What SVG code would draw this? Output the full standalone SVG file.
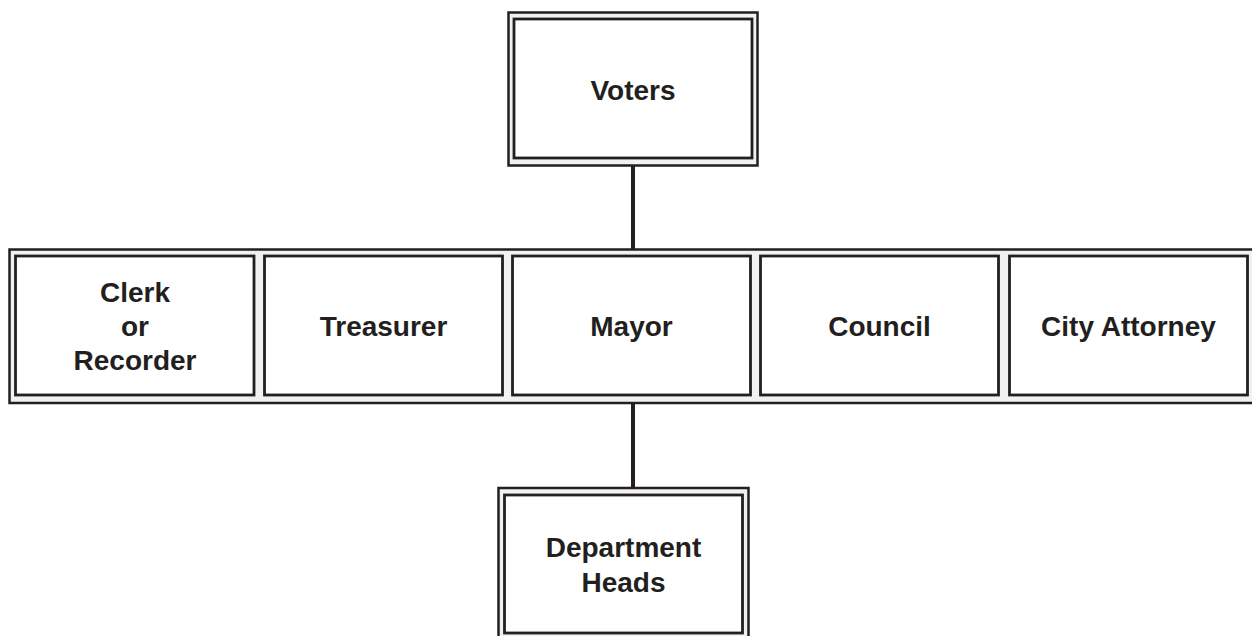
<svg xmlns="http://www.w3.org/2000/svg" width="1252" height="636" viewBox="0 0 1252 636">
<style>
.outer{fill:#f1f1f1;stroke:#231f20;stroke-width:2.5}
.inner{fill:#ffffff;stroke:#231f20;stroke-width:2.8}
.conn{stroke:#231f20;stroke-width:4;fill:none}
text{font-family:"Liberation Sans",Arial,Helvetica,sans-serif;font-weight:bold;font-size:28px;fill:#231f20;text-anchor:middle}
</style>
<rect width="1252" height="636" fill="#ffffff"/>
<g id="connectors">
<line class="conn" x1="633" y1="166" x2="633" y2="250"/>
<line class="conn" x1="633" y1="403" x2="633" y2="488"/>
</g>
<g id="voters">
<rect class="outer" x="508.5" y="12.5" width="249" height="153"/>
<rect class="inner" x="514" y="19" width="238" height="139"/>
<text x="633" y="100">Voters</text>
</g>
<g id="row">
<rect class="outer" x="9.5" y="249.5" width="1260" height="153.5"/>
</g>
<g id="clerk">
<rect class="inner" x="15.5" y="256" width="238.5" height="139"/>
<text x="135" y="302">Clerk</text>
<text x="135" y="336">or</text>
<text x="135" y="370">Recorder</text>
</g>
<g id="treasurer">
<rect class="inner" x="264.5" y="256" width="238" height="139"/>
<text x="383.5" y="336">Treasurer</text>
</g>
<g id="mayor">
<rect class="inner" x="512.5" y="256" width="238" height="139"/>
<text x="631.5" y="336">Mayor</text>
</g>
<g id="council">
<rect class="inner" x="760.5" y="256" width="238" height="139"/>
<text x="879.5" y="336">Council</text>
</g>
<g id="city-attorney">
<rect class="inner" x="1009.5" y="256" width="238" height="139"/>
<text x="1128.5" y="336">City Attorney</text>
</g>
<g id="department-heads">
<rect class="outer" x="498.5" y="488" width="250" height="160"/>
<rect class="inner" x="504.5" y="495" width="238" height="138"/>
<text x="623.5" y="557">Department</text>
<text x="623.5" y="592">Heads</text>
</g>
</svg>
